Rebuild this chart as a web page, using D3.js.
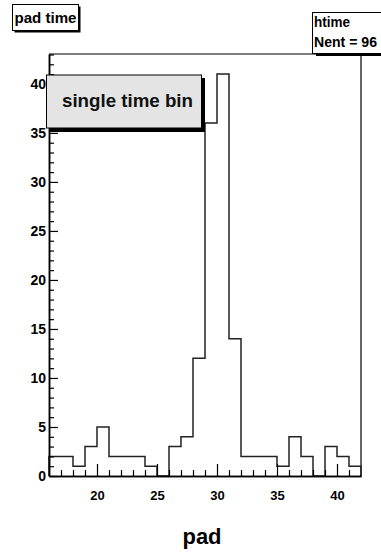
<!DOCTYPE html>
<html>
<head>
<meta charset="utf-8">
<script src="https://cdn.jsdelivr.net/npm/d3@7"></script>
<style>
  html, body { margin: 0; padding: 0; background: #fff; }
  svg { display: block; font-family: "Liberation Sans", Arial, Helvetica, sans-serif; }
</style>
</head>
<body>
<svg id="chart" width="381" height="556"></svg>
<script>
// ---- data ----
const binLow = [16,17,18,19,20,21,22,23,24,25,26,27,28,29,30,31,32,33,34,35,36,37,38,39,40,41];
const counts = [2,2,1,3,5,2,2,2,1,0,3,4,12,36,41,14,2,2,2,1,4,2,0,3,2,1];
const xDomain = [16, 42];
const yMax = 43.05;
const yMajorTicks = [0,5,10,15,20,25,30,35,40];
const xMajorTicks = [20,25,30,35,40];
const titleText = "pad time";
const statsLines = ["htime", "Nent = 96"];
const noteText = "single time bin";
const xTitle = "pad";

// ---- layout ----
const L = 49, R = 361, T = 54, B = 476;
const svg = d3.select("#chart");
const x = d3.scaleLinear().domain(xDomain).range([L, R]);
const y = d3.scaleLinear().domain([0, yMax]).range([B, T]);

svg.append("rect").attr("width", 381).attr("height", 556).attr("fill", "#fff");

// frame top & right
svg.append("path")
  .attr("d", `M${L},${T}H${R}V${B}`)
  .attr("fill", "none").attr("stroke", "#000").attr("stroke-width", 1.2);

// histogram step outline
const pts = [[xDomain[0], 0]];
binLow.forEach((lo, i) => {
  pts.push([lo, counts[i]]);
  pts.push([lo + 1, counts[i]]);
});
pts.push([xDomain[1], 0]);
const line = d3.line().x(d => x(d[0])).y(d => y(d[1]));
svg.append("path")
  .attr("d", line(pts))
  .attr("fill", "none").attr("stroke", "#222").attr("stroke-width", 1.5);

// y axis
const yMinor = d3.range(0, 44, 1).filter(v => v % 5 !== 0);
svg.append("g").attr("transform", `translate(${L},0)`)
  .call(d3.axisLeft(y).tickValues(yMinor).tickSize(-5).tickSizeOuter(0).tickFormat(""));
const gy = svg.append("g").attr("transform", `translate(${L},0)`)
  .call(d3.axisLeft(y).tickValues(yMajorTicks).tickSize(-9).tickSizeOuter(0).tickPadding(3));
gy.selectAll("text").attr("font-size", 14).attr("font-weight", "bold").attr("fill", "#000")
  .attr("font-family", "Liberation Sans, Arial, sans-serif");

// x axis
const xMinor = d3.range(17, 42, 1).filter(v => v % 5 !== 0);
svg.append("g").attr("transform", `translate(0,${B})`)
  .call(d3.axisBottom(x).tickValues(xMinor).tickSize(-6).tickSizeOuter(0).tickFormat(""));
const gx = svg.append("g").attr("transform", `translate(0,${B})`)
  .call(d3.axisBottom(x).tickValues(xMajorTicks).tickSize(-12).tickSizeOuter(0).tickPadding(15));
gx.selectAll("text").attr("font-size", 13).attr("font-weight", "bold").attr("fill", "#000")
  .attr("font-family", "Liberation Sans, Arial, sans-serif");

svg.selectAll(".domain").attr("stroke", "#000").attr("stroke-width", 1.5);
svg.selectAll(".tick line").attr("stroke", "#000").attr("stroke-width", 1.2);

// x title
svg.append("text").attr("x", 202).attr("y", 544).attr("text-anchor", "middle")
  .attr("font-size", 22).attr("font-weight", "bold").text(xTitle);

// title box
svg.append("rect").attr("x", 14.5).attr("y", 6.5).attr("width", 66).attr("height", 26).attr("fill", "#000");
svg.append("rect").attr("x", 12.5).attr("y", 4.5).attr("width", 66).attr("height", 26)
  .attr("fill", "#fff").attr("stroke", "#000").attr("stroke-width", 1);
svg.append("text").attr("x", 14.5).attr("y", 22.5).attr("font-size", 14).attr("font-weight", "bold")
  .attr("textLength", 62).attr("lengthAdjust", "spacingAndGlyphs").text(titleText);

// stats box (extends past the right edge)
svg.append("rect").attr("x", 316).attr("y", 15).attr("width", 120).attr("height", 41).attr("fill", "#000");
svg.append("rect").attr("x", 312.5).attr("y", 12.5).attr("width", 120).attr("height", 41)
  .attr("fill", "#fff").attr("stroke", "#000").attr("stroke-width", 1);
svg.selectAll(".stat").data(statsLines).enter().append("text")
  .attr("x", 314).attr("y", (d, i) => 26.5 + i * 20.5)
  .attr("font-size", 14).attr("font-weight", "bold")
  .attr("textLength", (d, i) => i === 0 ? 36 : 63).attr("lengthAdjust", "spacingAndGlyphs")
  .text(d => d);

// note box
svg.append("rect").attr("x", 50).attr("y", 78).attr("width", 155).attr("height", 54).attr("fill", "#000");
svg.append("rect").attr("x", 46.5).attr("y", 75).attr("width", 155).attr("height", 53)
  .attr("fill", "#e4e4e4").attr("stroke", "#000").attr("stroke-width", 1);
svg.append("text").attr("x", 62).attr("y", 107).attr("font-size", 18.5).attr("font-weight", "bold")
  .attr("textLength", 131).attr("lengthAdjust", "spacingAndGlyphs").attr("fill", "#111").text(noteText);
</script>
</body>
</html>
